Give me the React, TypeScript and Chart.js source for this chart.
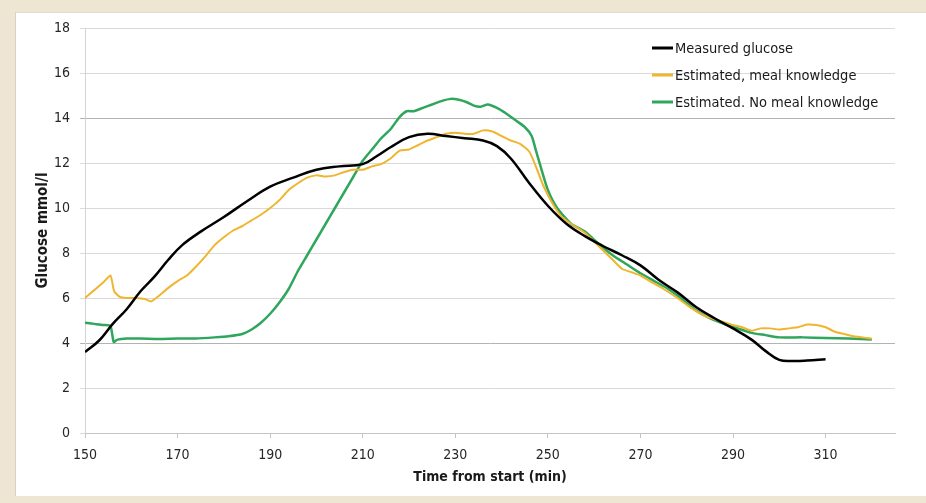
import React, { useEffect, useRef } from "react";
import { Chart, registerables } from "chart.js";

Chart.register(...registerables);

const FONT = '"Liberation Sans Narrow", "DejaVu Sans Condensed", "Liberation Sans", sans-serif';

const xTicks = [150, 170, 190, 210, 230, 250, 270, 290, 310];
const yTicks = [0, 2, 4, 6, 8, 10, 12, 14, 16, 18];

const seriesLabels = [
  "Measured glucose",
  "Estimated, meal knowledge",
  "Estimated. No meal knowledge",
];

const measuredX = [150, 153, 156, 159, 162, 165, 168, 171, 175, 180, 185, 190, 195, 200, 205, 210, 213, 216, 220, 224, 228, 232, 236, 239, 242, 246, 250, 254, 258, 262, 266, 270, 274, 278, 282, 286, 290, 294, 297, 300, 303, 306, 310];
const measuredY = [3.6, 4.1, 4.85, 5.5, 6.3, 6.95, 7.7, 8.35, 8.95, 9.6, 10.3, 10.95, 11.35, 11.7, 11.85, 11.95, 12.3, 12.7, 13.15, 13.3, 13.2, 13.1, 13.0, 12.75, 12.2, 11.1, 10.1, 9.3, 8.75, 8.3, 7.9, 7.45, 6.8, 6.25, 5.6, 5.1, 4.65, 4.15, 3.65, 3.25, 3.2, 3.22, 3.28];

const mealX = [150, 152, 154, 155.5, 156.3, 157.5, 159, 161, 163, 164.3, 166, 168, 170, 172, 174, 176, 178, 180, 182, 184, 186, 188, 190, 192, 194, 196, 198, 200, 202, 204, 206, 208, 210, 212, 214, 216, 218, 220, 222, 224, 226, 228, 230, 232, 234, 236, 238, 240, 242, 244, 246, 247.5, 249, 251, 253, 255, 258, 261, 264, 266, 268, 270, 272, 275, 278, 281, 284, 287, 290, 292, 294, 296, 298, 300, 302, 304, 306, 308, 310, 312, 314, 316, 319, 320];
const mealY = [6.0, 6.35, 6.7, 7.0, 6.3, 6.05, 6.0, 6.0, 5.95, 5.85, 6.1, 6.45, 6.75, 7.0, 7.4, 7.85, 8.35, 8.7, 9.0, 9.2, 9.45, 9.7, 10.0, 10.35, 10.8, 11.1, 11.35, 11.45, 11.4, 11.45, 11.6, 11.7, 11.7, 11.85, 11.95, 12.2, 12.55, 12.6, 12.8, 13.0, 13.15, 13.3, 13.35, 13.3, 13.3, 13.45, 13.4, 13.2, 13.0, 12.85, 12.5, 11.8, 11.0, 10.2, 9.6, 9.3, 8.9, 8.3, 7.7, 7.3, 7.15, 7.0, 6.75, 6.4, 6.0, 5.55, 5.2, 5.0, 4.8, 4.7, 4.55, 4.65, 4.65, 4.6, 4.65, 4.7, 4.82, 4.8, 4.7, 4.5, 4.4, 4.3, 4.22, 4.2];

const noMealX = [150, 152, 154, 155.5, 156.2, 157, 159, 162, 166, 170, 174, 178, 181, 184, 186, 188, 190, 192, 194, 196, 198, 200, 202, 204, 206, 208, 210, 212, 214, 216, 218, 219.5, 221, 223, 225, 227, 229, 231, 232.5, 234, 235.5, 237, 239, 241, 243, 245, 246.5, 247.5, 248.5, 250, 252, 255, 258, 261, 264, 267, 270, 273, 276, 279, 282, 285, 288, 291, 294, 297, 300, 305, 310, 315, 320];
const noMealY = [4.9, 4.85, 4.8, 4.75, 4.05, 4.15, 4.2, 4.2, 4.18, 4.2, 4.2, 4.25, 4.3, 4.4, 4.6, 4.9, 5.3, 5.8, 6.4, 7.2, 7.9, 8.6, 9.3, 10.0, 10.7, 11.4, 12.1, 12.6, 13.1, 13.5, 14.05, 14.3, 14.3, 14.45, 14.6, 14.75, 14.85, 14.8, 14.7, 14.55, 14.5, 14.6, 14.45, 14.2, 13.9, 13.6, 13.2, 12.5, 11.8, 10.8, 10.0, 9.3, 8.95, 8.4, 7.9, 7.5, 7.1, 6.75, 6.4, 5.95, 5.45, 5.1, 4.85, 4.65, 4.45, 4.35, 4.25, 4.25, 4.22, 4.2, 4.15];

const colors = ["#000000", "#F0B52E", "#2EA65C"];
const widths = [2.5, 2, 2.5];

const toPoints = (xs: number[], ys: number[]) => xs.map((x, i) => ({ x, y: ys[i] }));

const legendPlugin = {
  id: "insideLegend",
  afterDraw(chart: any) {
    const { ctx, chartArea } = chart;
    ctx.save();
    ctx.font = `14.5px ${FONT}`;
    ctx.textBaseline = "middle";
    ctx.textAlign = "left";
    chart.data.datasets.forEach((ds: any, i: number) => {
      const y = chartArea.top + 20 + i * 27;
      const x0 = chartArea.right - 243;
      ctx.strokeStyle = ds.borderColor;
      ctx.lineWidth = 3;
      ctx.beginPath();
      ctx.moveTo(x0, y);
      ctx.lineTo(x0 + 21, y);
      ctx.stroke();
      ctx.fillStyle = "#1a1a1a";
      ctx.fillText(ds.label, x0 + 23, y + 1);
    });
    ctx.restore();
  },
};

export default function App() {
  const ref = useRef<HTMLCanvasElement | null>(null);
  useEffect(() => {
    if (!ref.current) return;
    const chart = new Chart(ref.current, {
      type: "line",
      data: {
        datasets: [
          { label: seriesLabels[0], data: toPoints(measuredX, measuredY), borderColor: colors[0], borderWidth: widths[0], tension: 0.4 },
          { label: seriesLabels[1], data: toPoints(mealX, mealY), borderColor: colors[1], borderWidth: widths[1], tension: 0.2 },
          { label: seriesLabels[2], data: toPoints(noMealX, noMealY), borderColor: colors[2], borderWidth: widths[2], tension: 0.2 },
        ],
      },
      options: {
        animation: false,
        responsive: false,
        devicePixelRatio: 1,
        elements: { point: { radius: 0 } },
        layout: { padding: { left: 0, right: 31, top: 28, bottom: 0 } },
        plugins: { legend: { display: false }, tooltip: { enabled: false } },
        scales: {
          x: {
            type: "linear",
            min: 150,
            max: 325,
            afterBuildTicks: (s: any) => { s.ticks = xTicks.map((v) => ({ value: v })); },
            afterFit: (s: any) => { s.height = 70; },
            grid: { drawOnChartArea: false, color: "#c4c4c4", tickLength: 5 },
            border: { color: "#c4c4c4" },
            ticks: { color: "#262626", font: { family: FONT, size: 14 }, padding: 9, maxRotation: 0 },
            title: { display: true, text: "Time from start (min)", color: "#1a1a1a", font: { family: FONT, size: 14, weight: "bold" }, padding: { top: 0, bottom: 17.6 } },
          },
          y: {
            type: "linear",
            min: 0,
            max: 18,
            afterBuildTicks: (s: any) => { s.ticks = yTicks.map((v) => ({ value: v })); },
            afterFit: (s: any) => { s.width = 85; },
            grid: {
              color: (c: any) => (c.tick && (c.tick.value === 14 || c.tick.value === 4) ? "#b3b3b3" : "#dadada"),
              tickLength: 5,
            },
            border: { color: "#d4d4d4" },
            ticks: { color: "#262626", font: { family: FONT, size: 14 }, padding: 10 },
            title: { display: true, text: "Glucose mmol/l", color: "#1a1a1a", font: { family: FONT, size: 15, weight: "bold" }, padding: { top: 34, bottom: 0 } },
          },
        },
      },
      plugins: [legendPlugin],
    });
    return () => chart.destroy();
  }, []);

  return (
    <div style={{ position: "fixed", left: 0, top: 0, width: 926, height: 503, background: "#eee6d2", overflow: "hidden" }}>
      <div style={{ position: "absolute", left: 15, top: 12, width: 911, height: 484, background: "#ffffff", borderLeft: "1px solid #d6d2c6", borderTop: "1px solid #e2ddd0", boxSizing: "border-box" }} />
      <canvas ref={ref} width={926} height={503} style={{ position: "absolute", left: 0, top: 0, width: 926, height: 503 }} />
    </div>
  );
}
